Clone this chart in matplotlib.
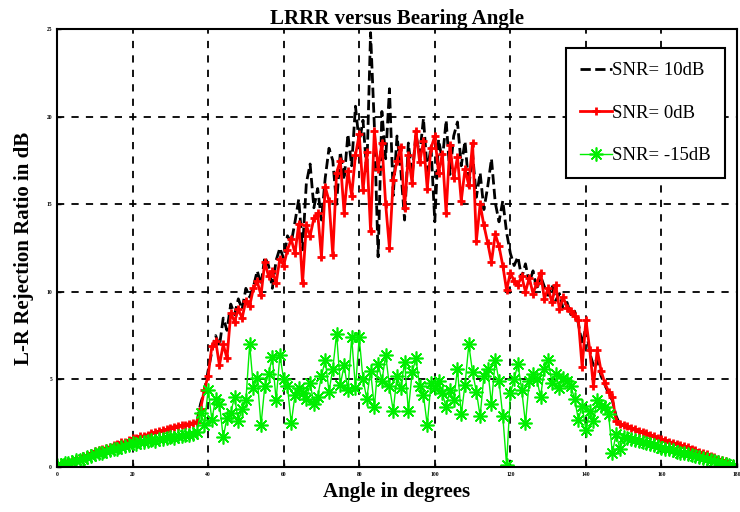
import matplotlib
matplotlib.use("Agg")
import matplotlib.pyplot as plt
import numpy as np

plt.rcParams["font.family"] = ["Liberation Serif", "DejaVu Serif"]

# bearing angle, 1-degree steps
angle = list(range(0, 181))

snr_10db = [
    0.10, 0.15, 0.20, 0.27, 0.33, 0.45, 0.50, 0.58, 0.65, 0.75,
    0.88, 0.92, 1.00, 1.05, 1.12, 1.22, 1.28, 1.35, 1.42, 1.48,
    1.58, 1.62, 1.70, 1.74, 1.80, 1.88, 1.92, 2.00, 2.05, 2.10,
    2.18, 2.22, 2.28, 2.33, 2.38, 2.42, 2.48, 2.55, 3.60, 4.30,
    5.50, 6.60, 7.50, 6.90, 8.50, 7.80, 9.30, 8.70, 9.60, 9.00,
    10.2, 9.70, 10.3, 11.2, 10.4, 12.0, 11.5, 10.2, 11.8, 12.5,
    11.9, 13.2, 12.8, 14.0, 15.3, 12.4, 16.2, 17.3, 14.8, 15.9,
    14.1, 16.5, 18.2, 17.5, 15.0, 18.0, 16.4, 19.0, 17.2, 20.6,
    18.5, 19.8, 16.8, 24.8, 19.5, 12.0, 20.3, 17.6, 21.6, 15.5,
    18.9, 17.0, 14.1, 18.5, 16.6, 19.0, 17.8, 19.9, 16.9, 18.3,
    14.0, 18.7, 17.5, 19.8, 16.7, 18.9, 19.7, 17.2, 18.6, 16.0,
    17.9, 15.4, 16.8, 14.7, 16.0, 17.6, 15.1, 14.0, 15.2, 13.4,
    12.2, 11.5, 12.0, 10.8, 11.6, 10.5, 11.2, 10.1, 10.9, 10.3,
    9.80, 10.4, 9.50, 9.90, 9.00, 9.40, 8.70, 8.90, 8.20, 7.00,
    8.00, 6.50, 5.80, 6.20, 5.20, 4.70, 4.20, 3.80, 2.90, 2.42,
    2.35, 2.26, 2.18, 2.10, 2.02, 1.95, 1.88, 1.80, 1.72, 1.64,
    1.55, 1.48, 1.42, 1.35, 1.28, 1.22, 1.15, 1.08, 1.02, 0.95,
    0.85, 0.78, 0.70, 0.62, 0.55, 0.46, 0.38, 0.30, 0.20, 0.12,
    0.05,
]

snr_0db = [
    0.10, 0.18, 0.22, 0.30, 0.36, 0.48, 0.52, 0.62, 0.68, 0.78,
    0.92, 0.95, 1.03, 1.10, 1.15, 1.28, 1.32, 1.40, 1.45, 1.52,
    1.65, 1.68, 1.75, 1.78, 1.85, 1.95, 1.98, 2.05, 2.10, 2.15,
    2.25, 2.30, 2.35, 2.38, 2.42, 2.48, 2.52, 2.55, 3.30, 4.40,
    5.20, 6.90, 7.20, 5.80, 7.00, 6.20, 8.80, 8.30, 9.00, 8.50,
    9.50, 9.20, 10.2, 10.6, 9.80, 11.7, 10.9, 11.2, 10.5, 11.9,
    11.5, 12.4, 13.0, 12.2, 13.9, 10.5, 13.8, 13.2, 14.2, 14.5,
    12.0, 16.0, 15.2, 12.1, 16.8, 17.5, 14.5, 16.9, 15.5, 17.8,
    19.0, 15.8, 18.0, 13.5, 19.2, 17.0, 18.5, 15.0, 12.5, 16.4,
    17.5, 18.3, 14.8, 17.8, 16.2, 19.2, 17.4, 18.6, 15.9, 18.2,
    18.9, 16.8, 17.9, 14.5, 18.4, 16.5, 17.7, 15.2, 17.0, 16.1,
    18.5, 12.9, 15.0, 13.8, 12.8, 11.7, 13.3, 12.6, 11.5, 10.1,
    11.1, 10.6, 10.4, 10.9, 10.0, 10.8, 9.90, 10.5, 11.1, 9.60,
    10.2, 9.40, 10.4, 9.00, 9.70, 9.10, 8.90, 8.60, 8.40, 5.70,
    8.40, 6.70, 4.60, 6.70, 5.50, 4.80, 4.30, 4.00, 2.60, 2.48,
    2.40, 2.32, 2.25, 2.16, 2.08, 2.00, 1.92, 1.85, 1.76, 1.68,
    1.58, 1.52, 1.45, 1.38, 1.32, 1.25, 1.18, 1.12, 1.05, 0.98,
    0.88, 0.80, 0.72, 0.65, 0.56, 0.48, 0.40, 0.32, 0.22, 0.14,
    0.05,
]

snr_m15db = [
    0.10, 0.12, 0.20, 0.22, 0.30, 0.38, 0.42, 0.48, 0.55, 0.62,
    0.75, 0.78, 0.82, 0.90, 0.95, 1.02, 1.05, 1.12, 1.18, 1.25,
    1.35, 1.32, 1.40, 1.45, 1.48, 1.52, 1.50, 1.58, 1.62, 1.65,
    1.70, 1.68, 1.75, 1.78, 1.80, 1.85, 1.90, 2.00, 3.10, 2.40,
    4.40, 2.70, 3.90, 3.60, 1.70, 2.80, 3.10, 4.00, 2.60, 3.30,
    3.80, 7.00, 4.50, 5.10, 2.40, 4.60, 5.30, 6.30, 3.80, 6.40,
    5.00, 4.60, 2.50, 4.10, 4.50, 4.20, 3.90, 4.80, 3.60, 4.00,
    5.20, 6.10, 4.30, 5.60, 7.60, 4.70, 5.80, 4.40, 7.40, 4.50,
    7.40, 5.00, 3.90, 5.50, 3.40, 5.90, 4.90, 6.40, 4.60, 3.20,
    5.20, 4.50, 6.00, 3.20, 5.40, 6.20, 4.60, 4.10, 2.40, 4.80,
    4.50, 4.90, 4.20, 3.40, 4.40, 3.80, 5.60, 3.00, 4.70, 7.00,
    5.40, 4.30, 2.90, 5.20, 5.60, 3.60, 6.10, 4.90, 2.90, 0.10,
    4.20, 5.00, 5.90, 4.40, 2.50, 4.90, 5.30, 5.00, 4.00, 5.60,
    6.10, 4.80, 5.30, 4.50, 5.10, 4.90, 4.60, 3.90, 2.70, 3.50,
    2.10, 3.20, 2.60, 3.80, 3.50, 3.40, 3.00, 0.80, 1.90, 1.00,
    1.70, 1.65, 1.58, 1.55, 1.48, 1.42, 1.38, 1.30, 1.25, 1.18,
    1.10, 1.05, 1.00, 0.95, 0.88, 0.82, 0.78, 0.72, 0.66, 0.60,
    0.58, 0.52, 0.46, 0.40, 0.35, 0.30, 0.25, 0.18, 0.12, 0.08,
    0.05,
]

fig = plt.figure(figsize=(7.4, 5.12), dpi=100)
ax = fig.add_axes([0.077, 0.088, 0.919, 0.855])

ax.plot(angle, snr_10db, color="black", linestyle="--", linewidth=2.0,
        label="SNR= 10dB")
ax.plot(angle, snr_0db, color="#ff0000", linestyle="-", linewidth=2.0,
        marker="+", markersize=6, markeredgewidth=2.0, label="SNR= 0dB")
# MATLAB-style asterisk marker (8 spokes)
ax.plot(angle, snr_m15db, color="#00ee00", linestyle="-", linewidth=1.0,
        marker=(8, 2, 0), markersize=10, markeredgewidth=1.2,
        label="SNR= -15dB")

ax.set_xlim(0, 180)
ax.set_ylim(0, 25)
ax.set_xticks(range(0, 181, 20))
ax.set_yticks(range(0, 26, 5))
ax.tick_params(direction="in", length=3, labelsize=4, width=1)
for lab in ax.get_xticklabels() + ax.get_yticklabels():
    lab.set_fontweight("bold")

ax.grid(True, color="black", linestyle=(0, (4, 4)), linewidth=1.3)
for sp in ax.spines.values():
    sp.set_linewidth(1.5)

ax.set_title("LRRR versus Bearing Angle", fontsize=15, fontweight="bold", pad=4)
ax.set_xlabel("Angle in degrees", fontsize=15, fontweight="bold", labelpad=4)
ax.set_ylabel("L-R Rejection Ratio in dB", fontsize=15, fontweight="bold", labelpad=9)

leg = ax.legend(loc="upper right", bbox_to_anchor=(0.982, 0.957), fontsize=13.5,
                labelspacing=1.35, handlelength=1.7, handletextpad=0.0,
                borderpad=0.75, borderaxespad=0.0, fancybox=False,
                framealpha=1.0, edgecolor="black")
leg.get_frame().set_linewidth(1.5)

fig.savefig("out.png", dpi=100)
plt.close(fig)
